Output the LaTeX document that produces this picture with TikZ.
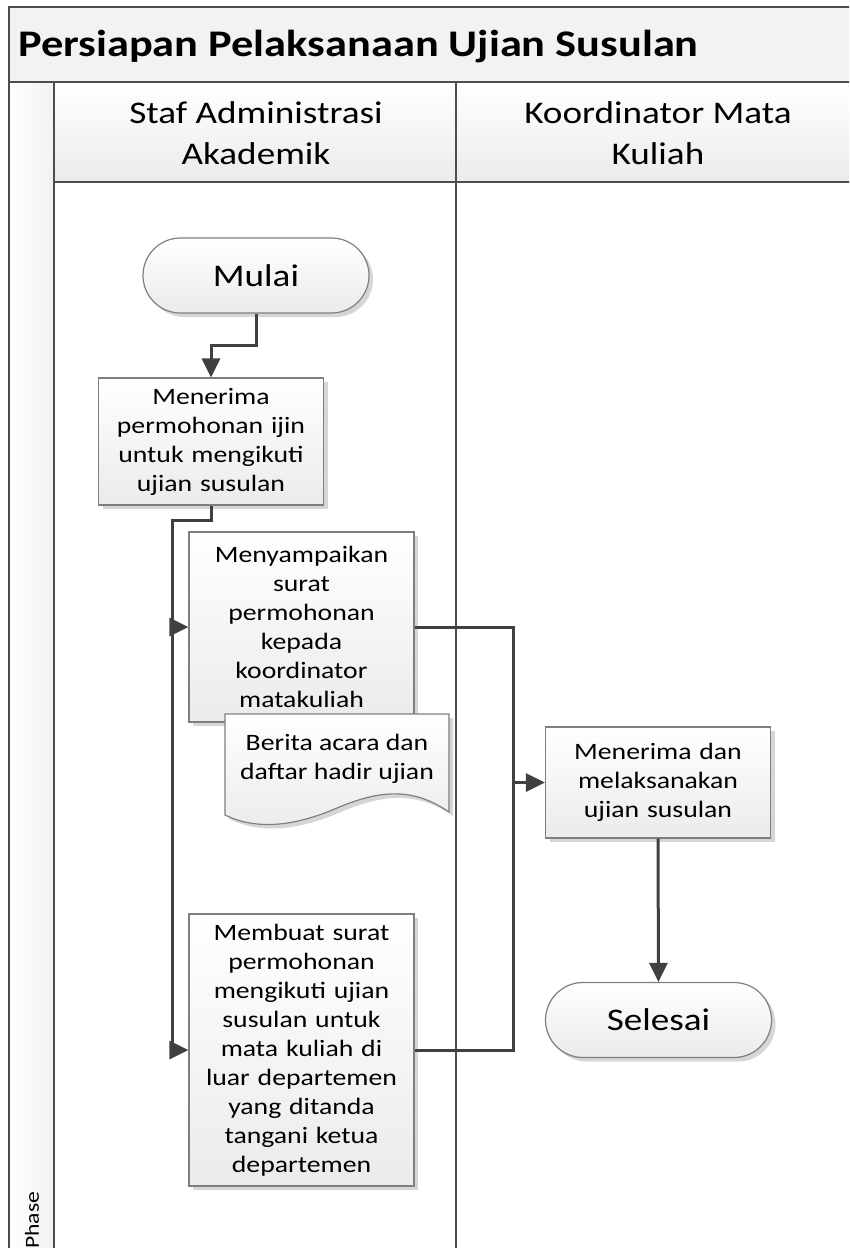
\documentclass[tikz,border=0pt]{standalone}
\usepackage{fontspec}
\setmainfont{Carlito}[FakeStretch=1.18]
\usetikzlibrary{arrows.meta,shadows,shapes.misc,calc}
\definecolor{ln}{HTML}{404040}
\definecolor{bd}{HTML}{7F7F7F}
\definecolor{pl}{HTML}{4D4D4D}
\definecolor{gf}{HTML}{EBEBEB}
\definecolor{sh}{HTML}{D6D6D6}
\definecolor{tb}{HTML}{F2F2F2}
\begin{document}
\begin{tikzpicture}[x=1pt,y=-1pt,
  conn/.style={draw=ln, line width=3pt},
  arr/.style={conn, -{Triangle[length=19pt,width=18pt]}},
  shad/.style={drop shadow={shadow xshift=4pt, shadow yshift=-4pt, fill=sh, opacity=1}},
  proc/.style={draw=bd, line width=1.2pt, top color=white, bottom color=gf, shad,
    minimum width=225pt, text width=219pt, align=center, inner sep=0pt,
    font=\fontsize{23.5}{29}\selectfont},
  term/.style={rounded rectangle, draw=bd, line width=1.2pt, top color=white, bottom color=gf, shad,
    minimum width=226pt, minimum height=75pt, inner sep=0pt,
    font=\fontsize{31.5}{36}\selectfont},
  pool/.style={draw=pl, line width=2.5pt},
  hdr/.style={align=center, inner sep=0pt, font=\fontsize{31.5}{41}\selectfont},
]
\useasboundingbox (0,0) rectangle (849,1248);
\clip (0,0) rectangle (849,1248);
\fill[white] (0,0) rectangle (849,1248);
% pool background
\fill[tb] (9,7) rectangle (880,82);
\shade[left color=white, right color=tb] (9,82) rectangle (54,1280);
\shade[top color=white, bottom color=gf] (54,82) rectangle (880,182);
\draw[pool] (880,7) -- (9,7) -- (9,1280);
\draw[pool] (9,82) -- (880,82);
\draw[pool] (54,82) -- (54,1280);
\draw[pool] (54,182) -- (880,182);
\draw[pool] (456,82) -- (456,1280);
% texts of pool
\node[anchor=west, inner sep=0pt, font=\fontsize{37.6}{40}\selectfont\bfseries] (title) at (18,46) {Persiapan Pelaksanaan Ujian Susulan};
\node[hdr] (h1) at (256,133) {Staf Administrasi\\Akademik};
\node[hdr] (h2) at (658,133) {Koordinator Mata\\Kuliah};
\node[rotate=90, anchor=west, inner sep=0pt, font=\fontsize{20}{20}\selectfont] (ph) at (32,1249) {Phase};
% flow nodes
\node[term] (mulai) at (256,275.5) {Mulai};
\node[proc, minimum height=127pt] (b1) at (211,441.5) {Menerima\\permohonan ijin\\untuk mengikuti\\ujian susulan};
\node[proc, minimum height=190pt] (b2) at (301.5,627) {Menyampaikan\\surat\\permohonan\\kepada\\koordinator\\matakuliah};
\path[draw=bd, line width=1.2pt, top color=white, bottom color=gf, shad]
  (225,714) -- (449,714) -- (449,812)
  .. controls (410,785) and (375,792) .. (337,808)
  .. controls (300,824) and (260,832) .. (225,815) -- cycle;
\node[align=center, inner sep=0pt, font=\fontsize{23.5}{29}\selectfont] (doc) at (337,759) {Berita acara dan\\daftar hadir ujian};
\node[proc, minimum height=272pt] (b3) at (301.5,1050) {Membuat surat\\permohonan\\mengikuti ujian\\susulan untuk\\mata kuliah di\\luar departemen\\yang ditanda\\tangani ketua\\departemen};
\node[proc, minimum height=111pt] (b4) at (658,782.5) {Menerima dan\\melaksanakan\\ujian susulan};
\node[term] (sel) at (658.5,1020) {Selesai};
% connectors
\coordinate (lx) at (172,520);
\coordinate (rx) at (513,782.5);
\draw[arr] (mulai.south) -- ++(0,32) -| (b1.north);
\draw[arr] (b1.south) |- (lx) |- (b3.west);
\draw[arr] (lx |- b2.west) -- (b2.west);
\draw[conn] (b2.east) -| (rx |- b3.east) -- (b3.east);
\draw[arr] (rx) -- (b4.west);
\draw[arr] (b4.south) -- (sel.north);
\end{tikzpicture}
\end{document}
